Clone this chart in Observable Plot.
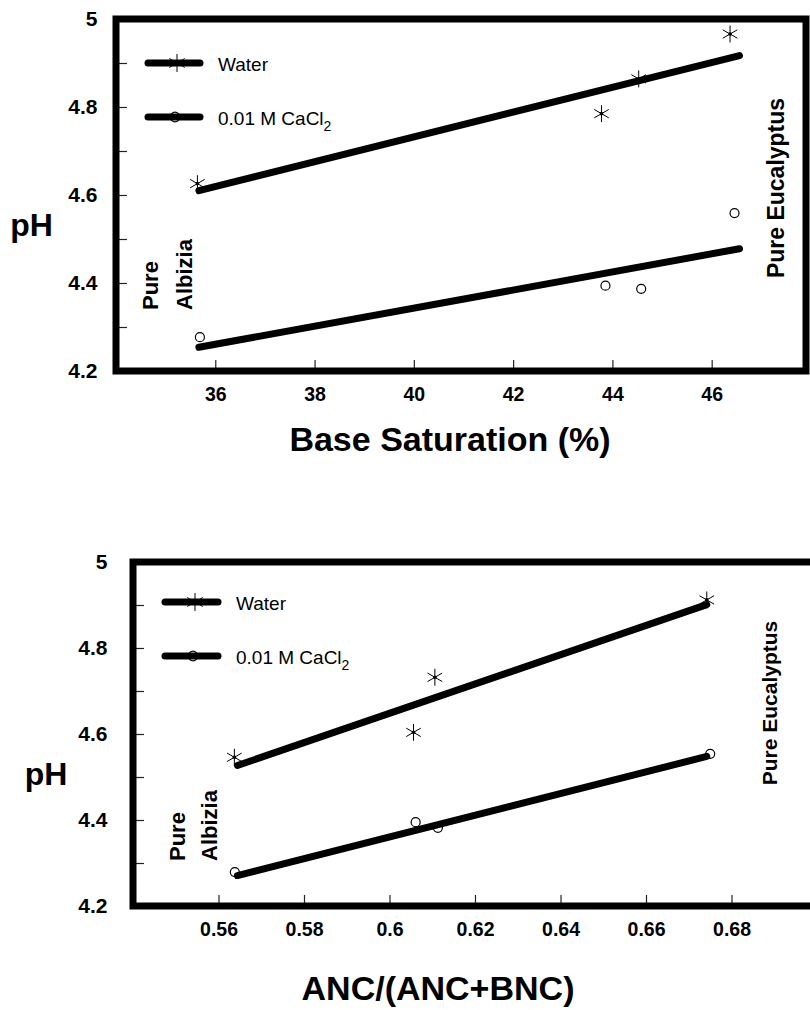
<!DOCTYPE html>
<html><head><meta charset="utf-8">
<script src="https://cdn.jsdelivr.net/npm/d3@7"></script>
<script src="https://cdn.jsdelivr.net/npm/@observablehq/plot@0.6"></script>
<style>
html,body{margin:0;padding:0;background:#fff;overflow:hidden;width:810px;height:1010px;}
#top,#bottom{position:absolute;left:0;width:810px;}
#top{top:0;} #bottom{top:520px;}
svg{display:block;}
</style></head><body>
<div id="top"></div><div id="bottom"></div>
<script>
// ---------- data ----------
const seriesNames = ["Water", "0.01 M CaCl", "2"];
// Panel 1: Base saturation (%)
const bsWaterX  = [35.63, 43.77, 44.52, 46.36];
const bsWaterPH = [4.627, 4.786, 4.865, 4.967];
const bsCaX     = [35.68, 43.85, 44.57, 46.45];
const bsCaPH    = [4.278, 4.395, 4.388, 4.56];
const bsFitX     = [35.66, 46.55];
const bsFitWater = [4.611, 4.918];
const bsFitCa    = [4.255, 4.479];
// Panel 2: ANC/(ANC+BNC)
const ancWaterX  = [0.5636, 0.6055, 0.6105, 0.6741];
const ancWaterPH = [4.547, 4.605, 4.733, 4.913];
const ancCaX     = [0.5637, 0.606, 0.6112, 0.6749];
const ancCaPH    = [4.280, 4.396, 4.383, 4.555];
const ancFitX     = [0.5643, 0.6741];
const ancFitWater = [4.528, 4.902];
const ancFitCa    = [4.272, 4.549];
// ticks
const phTicks = [4.2, 4.4, 4.6, 4.8, 5];
const phMinorTicks = [4.3, 4.5, 4.7, 4.9];
const bsTicks = [36, 38, 40, 42, 44, 46];
const ancTicks = [0.56, 0.58, 0.6, 0.62, 0.64, 0.66, 0.68];
const texts = {
  y: "pH",
  bsTitle: "Base Saturation (%)",
  ancTitle: "ANC/(ANC+BNC)",
  albizia: ["Pure", "Albizia"],
  eucalyptus: "Pure Eucalyptus"
};

const FONT = "'Liberation Sans', Arial, Helvetica, sans-serif";

function panel(c) {
  const width = 810;
  const pw = width - c.ml - c.mr, ph = c.height - c.mt - c.mb;
  const zip = (xs, ys) => xs.map((x, i) => ({x, y: ys[i]}));
  const water = zip(c.waterX, c.waterY);
  const ca = zip(c.caX, c.caY);
  const fitW = zip(c.fitX, c.fitW);
  const fitC = zip(c.fitX, c.fitC);
  const svg = Plot.plot({
    width, height: c.height,
    marginLeft: c.ml, marginRight: c.mr, marginTop: c.mt, marginBottom: c.mb,
    style: {fontFamily: FONT, color: "black", background: "white"},
    x: {domain: c.xDomain},
    y: {domain: [4.2, 5]},
    marks: [
      Plot.ruleY([...phTicks, ...phMinorTicks], {y: d => d, insetRight: pw - 11, stroke: "#222", strokeWidth: 1.2}),
      Plot.ruleX(c.xTicks, {x: d => d, insetTop: ph - 11, stroke: "#222", strokeWidth: 1.2}),
      Plot.axisY(phTicks, {tickSize: 0, tickPadding: c.yPad, tickFormat: d => String(d), fontSize: 21, fontWeight: "bold", label: null}),
      Plot.axisX(c.xTicks, {tickSize: 0, tickPadding: c.xPad, tickFormat: d => String(d), fontSize: 19.5, fontWeight: "bold", label: null}),
      Plot.dot(ca, {x: "x", y: "y", r: 4.5, stroke: "black", strokeWidth: 1.2, fill: "none"}),
      Plot.line(fitW, {x: "x", y: "y", stroke: "black", strokeWidth: 7, strokeLinecap: "round"}),
      Plot.line(fitC, {x: "x", y: "y", stroke: "black", strokeWidth: 7, strokeLinecap: "round"}),
      Plot.dot(water, {x: "x", y: "y", symbol: "asterisk", r: 8, stroke: "black", strokeWidth: 1}),
      Plot.dot(water, {x: "x", y: "y", r: 1.8, fill: "black"})
    ]
  });
  const g = d3.select(svg).append("g").attr("font-family", FONT).attr("fill", "black").attr("text-anchor", "start");
  // frame
  g.append("rect").attr("x", c.ml).attr("y", c.mt).attr("width", pw).attr("height", ph)
    .attr("fill", "none").attr("stroke", "black").attr("stroke-width", 7);
  const L = c.legend;
  // legend: water
  g.append("line").attr("x1", L.x1).attr("x2", L.x2).attr("y1", L.yw).attr("y2", L.yw)
    .attr("stroke", "black").attr("stroke-width", 7).attr("stroke-linecap", "round");
  g.append("path").attr("d", d3.symbol(d3.symbolAsterisk, Math.PI * 72)())
    .attr("transform", `translate(${L.sx},${L.yw})`).attr("stroke", "black").attr("fill", "none");
  g.append("text").attr("x", L.tx).attr("y", L.yw + 7.5).attr("font-size", 19).attr("text-anchor", "start").text(seriesNames[0]);
  // legend: CaCl2
  g.append("line").attr("x1", L.x1).attr("x2", L.x2).attr("y1", L.yc).attr("y2", L.yc)
    .attr("stroke", "black").attr("stroke-width", 7).attr("stroke-linecap", "round");
  g.append("circle").attr("cx", L.cx).attr("cy", L.yc).attr("r", 4.8)
    .attr("stroke", "black").attr("stroke-width", 1.2).attr("fill", "none");
  const t = g.append("text").attr("x", L.tx).attr("y", L.yc + 7.5).attr("font-size", 19).attr("text-anchor", "start");
  t.append("tspan").text(seriesNames[1]);
  t.append("tspan").attr("dy", 6).attr("font-size", 14).text(seriesNames[2]);
  // y title
  g.append("text").attr("x", c.pH[0]).attr("y", c.pH[1]).attr("text-anchor", "middle")
    .attr("font-size", 32).attr("font-weight", "bold").text(texts.y);
  // x title
  g.append("text").attr("x", c.title[0]).attr("y", c.title[1]).attr("text-anchor", "middle")
    .attr("font-size", 34).attr("font-weight", "bold").text(c.titleText);
  // Pure Albizia
  const A = c.alb;
  texts.albizia.forEach((s, i) => {
    g.append("text").attr("transform", `translate(${A.x - (1 - i) * A.gap},${A.y}) rotate(-90)`)
      .attr("text-anchor", "start").attr("font-size", A.fs).attr("font-weight", "bold").text(s);
  });
  // Pure Eucalyptus
  const E = c.euc;
  g.append("text").attr("transform", `translate(${E.x},${E.y}) rotate(-90)`)
    .attr("text-anchor", "middle").attr("font-size", E.fs).attr("font-weight", "bold").text(texts.eucalyptus);
  return svg;
}

document.getElementById("top").appendChild(panel({
  height: 520, ml: 116, mr: 4, mt: 19, mb: 149,
  xDomain: [34, 47.9], xTicks: bsTicks, yPad: 19, xPad: 16,
  waterX: bsWaterX, waterY: bsWaterPH, caX: bsCaX, caY: bsCaPH,
  fitX: bsFitX, fitW: bsFitWater, fitC: bsFitCa,
  legend: {x1: 148, x2: 200, sx: 177, cx: 175, tx: 218, yw: 63, yc: 117},
  pH: [31.5, 236], title: [450, 451], titleText: texts.bsTitle,
  alb: {x: 192, y: 310, gap: 34, fs: 22},
  euc: {x: 784, y: 188, fs: 23}
}));

document.getElementById("bottom").appendChild(panel({
  height: 490, ml: 133, mr: -7, mt: 42, mb: 104,
  xDomain: [0.54, 0.70], xTicks: ancTicks, yPad: 26, xPad: 16,
  waterX: ancWaterX, waterY: ancWaterPH, caX: ancCaX, caY: ancCaPH,
  fitX: ancFitX, fitW: ancFitWater, fitC: ancFitCa,
  legend: {x1: 165, x2: 218, sx: 195, cx: 193, tx: 236, yw: 82, yc: 136},
  pH: [46, 265], title: [438, 480], titleText: texts.ancTitle,
  alb: {x: 217, y: 341, gap: 32, fs: 22},
  euc: {x: 777, y: 183, fs: 21}
}));
</script>
</body></html>
